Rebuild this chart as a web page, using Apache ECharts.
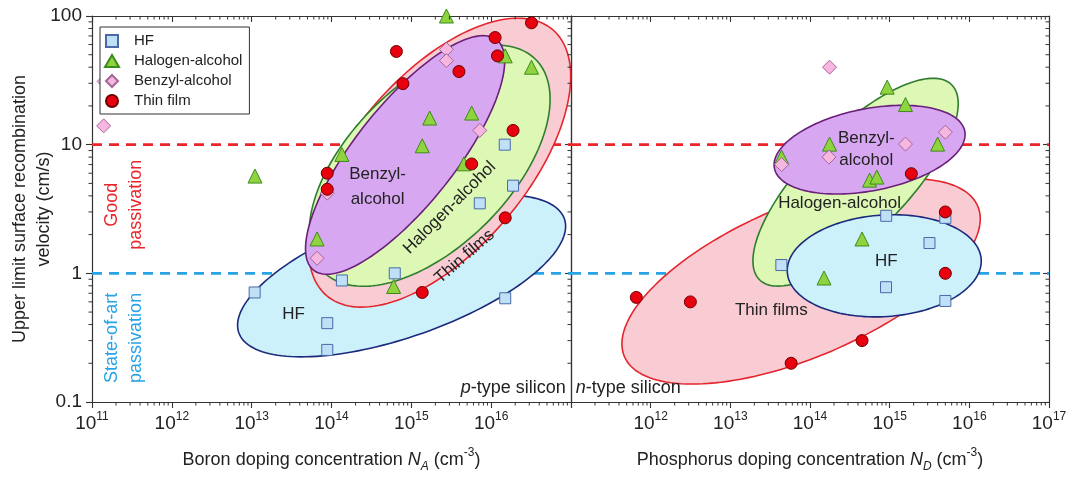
<!DOCTYPE html>
<html>
<head>
<meta charset="utf-8">
<script src="https://cdn.jsdelivr.net/npm/echarts@6/dist/echarts.min.js"></script>
<style>
html, body { margin: 0; padding: 0; background: #fff; }
#chart { width: 1075px; height: 477px; }
</style>
</head>
<body>
<div id="chart"></div>
<script>
// ---- p-type silicon (boron): [N_A (cm^-3), S (cm/s)] ----
const pHF = [[1.48e16, 10], [1.88e16, 4.8], [7.2e15, 3.5], [6.2e14, 1.0], [1.35e14, 0.88],
             [1.09e13, 0.71], [8.85e13, 0.41], [8.85e13, 0.254], [1.5e16, 0.64]];
const pHalogen = [[2.75e15, 100], [1.5e16, 49], [3.2e16, 40], [1.7e15, 16.1], [5.7e15, 17.6],
                  [1.37e15, 9.8], [1.35e14, 8.4], [4.55e15, 7.1], [1.1e13, 5.7], [6.6e13, 1.85], [6e14, 0.79]];
const pBenzyl = [[2.75e15, 55], [2.75e15, 45], [7.2e15, 12.9], [8.85e13, 4.2], [6.6e13, 1.31],
                 [1.4e11, 14], [1.42e11, 31]];
const pThinFilm = [[6.5e14, 53], [3.2e16, 88.5], [1.12e16, 68], [1.2e16, 49], [3.95e15, 37],
                   [7.85e14, 29.8], [1.88e16, 12.9], [5.7e15, 7.08], [8.85e13, 6.0], [8.85e13, 4.5],
                   [1.5e16, 2.7], [1.37e15, 0.71]];

// ---- n-type silicon (phosphorus): [N_D (cm^-3), S (cm/s)] ----
const nHF = [[9.05e14, 2.8], [5e15, 2.7], [3.16e15, 1.72], [4.37e13, 1.16], [9e14, 0.78], [5e15, 0.61]];
const nHalogen = [[9.3e14, 28], [1.58e15, 20.5], [1.76e14, 10.1], [4e15, 10.1], [4.4e13, 8.0],
                  [5.6e14, 5.3], [6.9e14, 5.6], [4.5e14, 1.85], [1.5e14, 0.92]];
const nBenzyl = [[1.76e14, 40], [5e15, 12.5], [1.58e15, 10.1], [1.73e14, 8.0], [4.4e13, 7.0]];
const nThinFilm = [[1.87e15, 5.95], [5e15, 3.0], [5e15, 1.0], [6.6e11, 0.65], [3.15e12, 0.60],
                   [4.5e14, 0.30], [5.8e13, 0.20]];

// passivation benchmark levels (cm/s)
const goodLevel = 10;
const stateOfArtLevel = 1;

// axis ranges and decade structure
const dopingRange = [1e11, 1e17];
const velocityRange = [0.1, 100];
const dopingDecades = [1e11, 1e12, 1e13, 1e14, 1e15, 1e16];
const velocityDecades = [0.1, 1, 10];
const minorMantissas = [2, 3, 4, 5, 6, 7, 8, 9];

// Group regions as ellipses in log10 space:
// [group, centre log10(N), centre log10(S), semi-diameter u (dx, dy), semi-diameter v (dx, dy)] in decades
const pRegions = [
  ['HF',              14.878, -0.019,  2.039, 0.443,  0.253, -0.448],
  ['Thin films',      15.355,  0.860,  1.416, 1.0335, 0.830, -0.4387],
  ['Halogen-alcohol', 15.229,  0.8366, 1.329, 0.8254, 0.715, -0.444],
  ['Benzyl-alcohol',  14.922,  0.920,  1.147, 0.895,  0.490, -0.2422]
];
const nRegions = [
  ['Thin films',      13.888, -0.0623, 2.218,  0.584, 0.3726, -0.5444],
  ['Halogen-alcohol', 14.572,  0.708,  1.2053, 0.758, 0.4556, -0.2787],
  ['Benzyl-alcohol',  14.748,  0.961,  1.1947, 0.144, 0.0982, -0.3132],
  ['HF',              14.932,  0.0584, 1.2169, 0.0502, 0.0422, -0.3937]
];

// text annotations: [text, N, S]
const pRegionText = [
  ['Benzyl-\nalcohol', 3.78e14, 4.71],
  ['Halogen-alcohol', 3.02e15, 3.24],
  ['Thin films', 4.66e15, 1.352],
  ['HF', 3.35e13, 0.484]
];
const nRegionText = [
  ['Benzyl-\nalcohol', 5.08e14, 9.14],
  ['Halogen-alcohol', 2.35e14, 3.475],
  ['HF', 9.06e14, 1.251],
  ['Thin films', 3.27e13, 0.52]
];
const passivationText = [
  ['Good\npassivation', 2.55e11, 3.41],
  ['State-of-art\npassivation', 2.55e11, 0.315]
];
const panelText = [
  ['{i|p}-type silicon', 8.6e16, 0.1285],
  ['{i|n}-type silicon', 1.15e11, 0.1285]
];

const FONT = '"Liberation Sans", Arial, Helvetica, sans-serif';
const INK = '#222';
const AXIS = '#333';

const regionStyle = {
  'HF': { fill: '#cdf1fb', stroke: '#1c2a7c' },
  'Thin films': { fill: '#f9ccd3', stroke: '#e3262d' },
  'Halogen-alcohol': { fill: '#ddf7b5', stroke: '#2f7d2f' },
  'Benzyl-alcohol': { fill: '#d7a8f1', stroke: '#6a1f78' }
};

const markerStyle = {
  'HF': { symbol: 'rect', size: 11, color: '#bfe0f7', border: '#4a6aa6' },
  'Halogen-alcohol': { symbol: 'triangle', size: 14, color: '#8fd43f', border: '#3d8a1c' },
  'Benzyl-alcohol': { symbol: 'diamond', size: 14, color: '#f7b6df', border: '#a3669a' },
  'Thin film': { symbol: 'circle', size: 12, color: '#e8000f', border: '#6e0000' }
};

// rotation (degrees) for slanted region captions in the p-type panel
const captionRotation = { 'Halogen-alcohol': 45, 'Thin films': 41 };

function expLabel(skipExp) {
  return function (v) {
    const e = Math.round(Math.log10(v));
    return e === skipExp ? '' : '10{sup|' + e + '}';
  };
}

const supRich = { fontSize: 12, lineHeight: 12, verticalAlign: 'top', fontFamily: FONT, color: INK };

function xAxisDef(gridIndex, position, opts) {
  const bottom = position === 'bottom';
  return {
    type: 'log', logBase: 10, gridIndex: gridIndex, position: position,
    min: dopingRange[0], max: dopingRange[1], splitNumber: 6,
    axisLine: { show: true, onZero: false, lineStyle: { color: AXIS, width: 1.2 } },
    axisTick: { show: true, inside: !bottom, length: 6, lineStyle: { color: AXIS, width: 1.1 } },
    minorTick: { show: false },
    splitLine: { show: false }, minorSplitLine: { show: false },
    axisLabel: bottom ? {
      show: true, margin: 9, fontSize: 19, lineHeight: 26, color: INK, fontFamily: FONT,
      formatter: expLabel(opts.skip), rich: { sup: supRich },
      showMinLabel: true, showMaxLabel: true, hideOverlap: false
    } : { show: false },
    name: bottom ? opts.name : '',
    nameLocation: 'middle', nameGap: 45, nameMoveOverlap: false,
    nameTextStyle: {
      fontSize: 18, lineHeight: 26, color: INK, fontFamily: FONT,
      rich: {
        i: { fontStyle: 'italic', fontSize: 18, lineHeight: 26, fontFamily: FONT, color: INK },
        sub: { fontStyle: 'italic', fontSize: 12, lineHeight: 12, verticalAlign: 'bottom', fontFamily: FONT, color: INK },
        sup: supRich
      }
    }
  };
}

function yAxisDef(gridIndex, position, opts) {
  const o = opts || {};
  return {
    type: 'log', logBase: 10, gridIndex: gridIndex, position: position,
    min: velocityRange[0], max: velocityRange[1], splitNumber: 3,
    axisLine: { show: true, onZero: false, lineStyle: { color: AXIS, width: 1.2 } },
    axisTick: { show: o.ticks !== false, inside: position === 'right', length: 6, lineStyle: { color: AXIS, width: 1.1 } },
    minorTick: { show: false },
    splitLine: { show: false }, minorSplitLine: { show: false },
    axisLabel: o.labels ? {
      show: true, margin: 10, fontSize: 19, color: INK, fontFamily: FONT,
      showMinLabel: true, showMaxLabel: true, hideOverlap: false
    } : { show: false },
    name: o.name || '',
    nameLocation: 'middle', nameGap: 36, nameRotate: 90, nameMoveOverlap: false,
    nameTextStyle: { fontSize: 18, lineHeight: 24, color: INK, fontFamily: FONT }
  };
}

function refLine(level, color, xi, yi) {
  return {
    type: 'line', xAxisIndex: xi, yAxisIndex: yi, z: 1, silent: true, symbol: 'none',
    data: [[dopingRange[0], level], [dopingRange[1], level]],
    lineStyle: { color: color, width: 2.6, type: [10, 7] }, animation: false
  };
}

// minor ticks at 2..9 x 10^n on every side of a panel (outward on bottom/left, inward on top/right)
function minorTickSeries(xi, yi, withLeft) {
  const ticks = [];
  dopingDecades.forEach(function (d) {
    minorMantissas.forEach(function (m) { ticks.push(['x', m * d]); });
  });
  velocityDecades.forEach(function (d) {
    minorMantissas.forEach(function (m) { ticks.push(['y', m * d]); });
  });
  const len = 3.5;
  return {
    type: 'custom', xAxisIndex: xi, yAxisIndex: yi, z: 6, silent: true, clip: false,
    data: ticks.map(function (t) {
      return t[0] === 'x' ? [t[1], velocityRange[0]] : [dopingRange[0], t[1]];
    }),
    encode: { x: 0, y: 1 },
    renderItem: function (params, api) {
      const t = ticks[params.dataIndex];
      const st = { stroke: AXIS, lineWidth: 1 };
      const children = [];
      if (t[0] === 'x') {
        const b = api.coord([t[1], velocityRange[0]]);
        const tp = api.coord([t[1], velocityRange[1]]);
        children.push({ type: 'line', shape: { x1: b[0], y1: b[1], x2: b[0], y2: b[1] + len }, style: st });
        children.push({ type: 'line', shape: { x1: tp[0], y1: tp[1], x2: tp[0], y2: tp[1] + len }, style: st });
      } else {
        const l = api.coord([dopingRange[0], t[1]]);
        const r = api.coord([dopingRange[1], t[1]]);
        if (withLeft) {
          children.push({ type: 'line', shape: { x1: l[0], y1: l[1], x2: l[0] - len, y2: l[1] }, style: st });
        }
        children.push({ type: 'line', shape: { x1: r[0], y1: r[1], x2: r[0] - len, y2: r[1] }, style: st });
      }
      return { type: 'group', children: children };
    }
  };
}

function regionSeries(regions, xi, yi) {
  return {
    type: 'custom', xAxisIndex: xi, yAxisIndex: yi, z: 2, silent: true,
    data: regions.map(function (r) { return [Math.pow(10, r[1]), Math.pow(10, r[2])]; }),
    encode: { x: 0, y: 1 },
    renderItem: function (params, api) {
      const r = regions[params.dataIndex];
      const pts = [];
      const n = 160;
      for (let k = 0; k < n; k++) {
        const t = 2 * Math.PI * k / n;
        const c = Math.cos(t), s = Math.sin(t);
        pts.push(api.coord([
          Math.pow(10, r[1] + r[3] * c + r[5] * s),
          Math.pow(10, r[2] + r[4] * c + r[6] * s)
        ]));
      }
      const st = regionStyle[r[0]];
      return { type: 'polygon', shape: { points: pts }, style: { fill: st.fill, stroke: st.stroke, lineWidth: 1.6 } };
    }
  };
}

function textSeries(items, xi, yi, look) {
  return {
    type: 'custom', xAxisIndex: xi, yAxisIndex: yi, z: 5, silent: true,
    data: items.map(function (it) { return [it[1], it[2]]; }),
    encode: { x: 0, y: 1 },
    renderItem: function (params, api) {
      const it = items[params.dataIndex];
      const p = api.coord([it[1], it[2]]);
      const st = look(it, params.dataIndex);
      return {
        type: 'text', x: p[0], y: p[1], rotation: (st.rotate || 0) * Math.PI / 180,
        style: {
          text: it[0], fill: st.color || INK,
          font: (st.size || 17) + 'px ' + FONT,
          align: st.align || 'center', verticalAlign: 'middle',
          textAlign: st.align || 'center', textVerticalAlign: 'middle',
          lineHeight: st.lineHeight || 24,
          rich: { i: { fontStyle: 'italic', fontSize: st.size || 17, fontFamily: FONT, fill: INK } }
        }
      };
    }
  };
}

function scatter(name, data, xi, yi) {
  const m = markerStyle[name];
  return {
    type: 'scatter', name: name, xAxisIndex: xi, yAxisIndex: yi, z: 4,
    data: data, symbol: m.symbol, symbolSize: m.size,
    itemStyle: { color: m.color, borderColor: m.border, borderWidth: 1, opacity: 1 },
    emphasis: { disabled: true }
  };
}

const chart = echarts.init(document.getElementById('chart'), null, { renderer: 'canvas' });

const option = {
  animation: false,
  backgroundColor: '#fff',
  grid: [
    { left: 92, top: 16, width: 479, height: 386, outerBoundsMode: 'none', containLabel: false },
    { left: 571, top: 16, width: 478, height: 386, outerBoundsMode: 'none', containLabel: false }
  ],
  xAxis: [
    xAxisDef(0, 'bottom', { skip: 17, name: 'Boron doping concentration {i|N}{sub|A} (cm{sup|-3})' }),
    xAxisDef(0, 'top', {}),
    xAxisDef(1, 'bottom', { skip: 11, name: 'Phosphorus doping concentration {i|N}{sub|D} (cm{sup|-3})' }),
    xAxisDef(1, 'top', {})
  ],
  yAxis: [
    yAxisDef(0, 'left', { labels: true, name: 'Upper limit surface recombination\nvelocity (cm/s)' }),
    yAxisDef(0, 'right', {}),
    yAxisDef(1, 'left', { ticks: false }),
    yAxisDef(1, 'right', {})
  ],
  legend: {
    orient: 'vertical', left: 100, top: 27,
    padding: [6, 7, 5, 4], itemGap: 4, itemWidth: 34, itemHeight: 12,
    backgroundColor: '#fff', borderColor: '#333', borderWidth: 1, borderRadius: 0,
    symbolKeepAspect: true,
    textStyle: { fontSize: 15, lineHeight: 16, color: INK, fontFamily: FONT },
    selectedMode: false, z: 10,
    data: [
      { name: 'HF', icon: 'path://M0,0L10,0L10,10L0,10Z' },
      { name: 'Halogen-alcohol', icon: 'path://M7,0L14,12L0,12Z' },
      { name: 'Benzyl-alcohol', icon: 'path://M6,0L12,6L6,12L0,6Z' },
      { name: 'Thin film', icon: 'path://M12,6A6,6,0,1,1,0,6A6,6,0,1,1,12,6Z' }
    ]
  },
  series: [
    refLine(goodLevel, '#e8262c', 0, 0),
    refLine(stateOfArtLevel, '#27a3e6', 0, 0),
    refLine(goodLevel, '#e8262c', 2, 2),
    refLine(stateOfArtLevel, '#27a3e6', 2, 2),

    regionSeries(pRegions, 0, 0),
    regionSeries(nRegions, 2, 2),

    scatter('HF', pHF, 0, 0),
    scatter('Halogen-alcohol', pHalogen, 0, 0),
    scatter('Benzyl-alcohol', pBenzyl, 0, 0),
    scatter('Thin film', pThinFilm, 0, 0),
    scatter('HF', nHF, 2, 2),
    scatter('Halogen-alcohol', nHalogen, 2, 2),
    scatter('Benzyl-alcohol', nBenzyl, 2, 2),
    scatter('Thin film', nThinFilm, 2, 2),

    textSeries(pRegionText, 0, 0, function (it) {
      return { rotate: captionRotation[it[0]] || 0, size: 17, lineHeight: 25 };
    }),
    textSeries(nRegionText, 2, 2, function () {
      return { size: 17, lineHeight: 22 };
    }),
    textSeries(passivationText, 0, 0, function (it, i) {
      return { rotate: 90, size: 18, lineHeight: 24, color: i === 0 ? '#e8262c' : '#27a3e6' };
    }),
    textSeries(panelText.slice(0, 1), 0, 0, function () {
      return { size: 18, align: 'right' };
    }),
    textSeries(panelText.slice(1), 2, 2, function () {
      return { size: 18, align: 'left' };
    }),

    minorTickSeries(0, 0, true),
    minorTickSeries(2, 2, false)
  ]
};

chart.setOption(option);
</script>
</body>
</html>
